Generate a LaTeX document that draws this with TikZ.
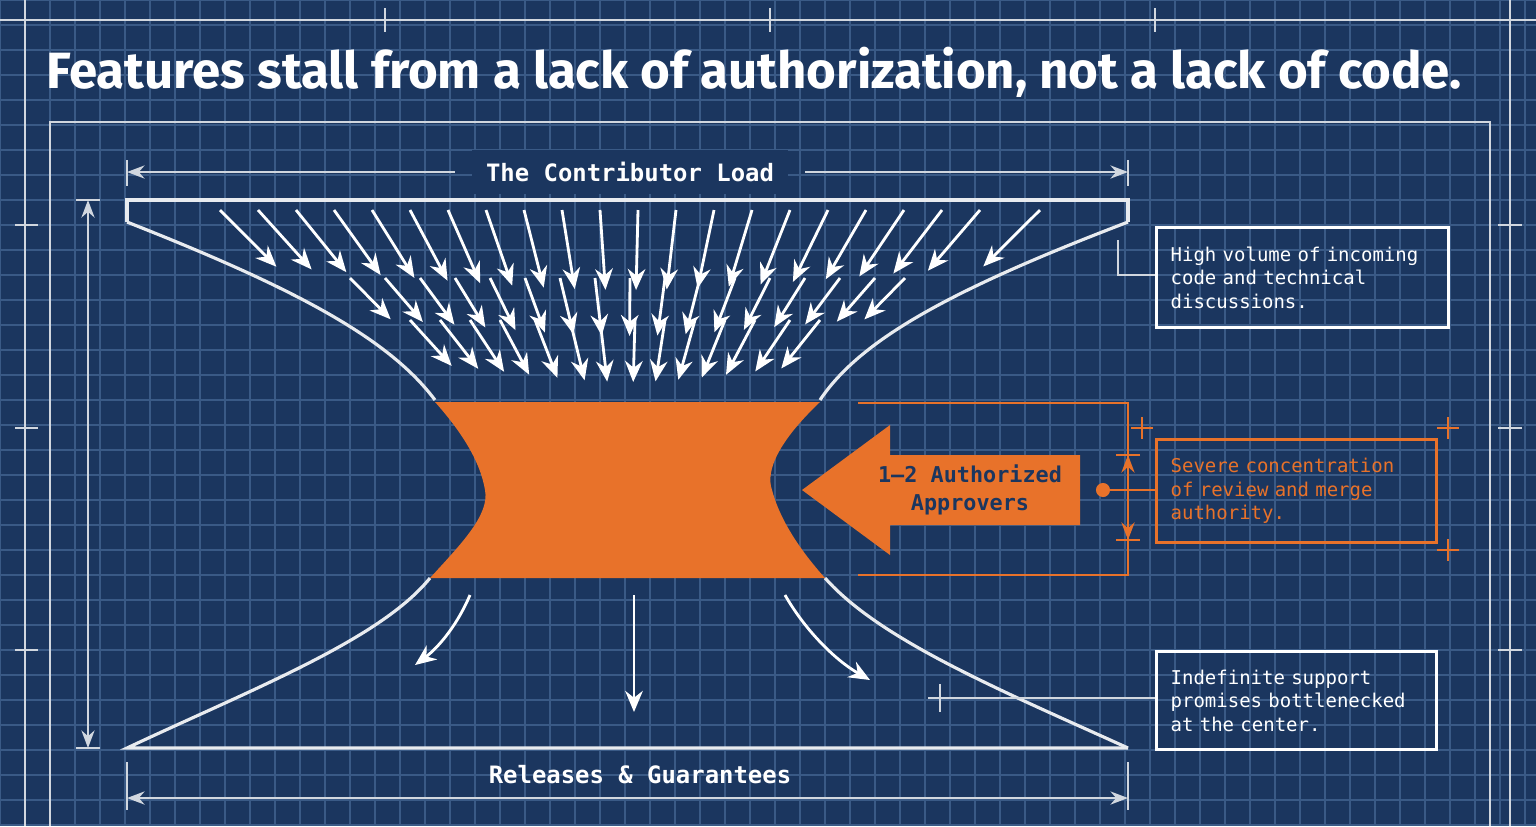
\documentclass[tikz,border=0pt]{standalone}
\usepackage{fontspec}
\setmainfont{Fira Sans}
\setmonofont{DejaVu Sans Mono}
\usetikzlibrary{calc, arrows.meta}
\definecolor{bpblue}{HTML}{1B365F}
\definecolor{bpgrid}{HTML}{3A5A86}
\definecolor{bporange}{HTML}{E8722A}
\tikzset{
  line/.style={draw=white!90!bpblue, line width=0.9pt},
  thin line/.style={draw=white!80!bpblue, line width=0.6pt},
  flow/.style={draw=white, line width=0.8pt, -{Stealth[length=6pt,width=5pt]}},
  dim/.style={thin line, {Stealth[length=5pt]}-{Stealth[length=5pt]}},
  note/.style={draw=white, line width=0.9pt, font=\ttfamily\fontsize{5.4}{6.7}\selectfont, text=white, align=left, anchor=north west, inner xsep=4pt, inner ysep=5pt},
  label/.style={text=white, font=\ttfamily\bfseries\fontsize{6.8}{8}\selectfont},
  tick/.style={thin line},
}
\begin{document}
\begin{tikzpicture}[x=0.01cm, y=-0.01cm]
  \fill[bpblue] (0,0) rectangle (1536,826);
  \useasboundingbox (0,0) rectangle (1536,826);
  % grid
  \foreach \x in {0,25,...,1536} \draw[bpgrid, line width=0.3pt] (\x,0) -- (\x,826);
  \foreach \y in {0,25,...,826} \draw[bpgrid, line width=0.3pt] (0,\y) -- (1536,\y);
  % frame
  \draw[thin line] (0,20) -- (1536,20);
  \draw[thin line] (25,0) -- (25,826);
  \draw[thin line] (1510,0) -- (1510,826);
  \draw[thin line] (50,826) -- (50,122) -- (1490,122) -- (1490,826);
  \foreach \x in {385,770,1155} \draw[tick] (\x,8) -- (\x,32);
  \foreach \y in {225,428,650} {
    \draw[tick] (15,\y) -- (38,\y);
    \draw[tick] (1498,\y) -- (1522,\y);
  }
  % title
  \node[text=white, font=\fontsize{14.5}{17}\selectfont\bfseries] (title) at (754,72)
    {Features stall from a lack of authorization, not a lack of code.};
  % dimensions
  \node[label, fill=bpblue, inner xsep=4pt] (load) at (630,172) {The Contributor Load};
  \draw[thin line, {Stealth[length=5pt]}-] (127,172) -- (455,172);
  \draw[thin line, -{Stealth[length=5pt]}] (805,172) -- (1128,172);
  \draw[tick] (127,160) -- (127,186);
  \draw[tick] (1128,160) -- (1128,186);
  \node[label] (rel) at (640,775) {Releases \& Guarantees};
  \draw[dim] (127,798) -- (1128,798);
  \draw[tick] (127,762) -- (127,810);
  \draw[tick] (1128,762) -- (1128,810);
  \draw[dim] (88,200) -- (88,748);
  \draw[tick] (76,200) -- (100,200);
  \draw[tick] (76,748) -- (100,748);
  % funnel
  \draw[line] (127,222) -- (127,200) -- (1128,200) -- (1128,222);
  \draw[line] (127,222) .. controls (300,290) and (390,340) .. (435,400);
  \draw[line] (1128,222) .. controls (950,290) and (860,340) .. (820,400);
  \draw[line] (430,578) .. controls (380,640) and (250,690) .. (127,748) -- (1128,748);
  \draw[line] (825,578) .. controls (880,640) and (1000,690) .. (1128,748);
  \fill[bporange] (435,402) -- (820,402) .. controls (780,440) and (765,470) .. (772,490)
    .. controls (780,520) and (800,550) .. (825,578) -- (430,578)
    .. controls (460,545) and (490,515) .. (485,490)
    .. controls (480,460) and (460,430) .. (435,402) -- cycle;
  % incoming load
  \foreach \x in {220,258,296,334,372,410,448,486,524,562,600,638,676,714,752,790,828,866,904,942,980,1040}
    \draw[flow] (\x,210) -- ($(\x,210)!0.8cm!(628,620)$);
  \foreach \x in {350,385,420,455,490,525,560,595,630,665,700,735,770,805,840,875,905}
    \draw[flow] (\x,278) -- ($(\x,278)!0.58cm!(628,560)$);
  \foreach \x in {410,440,470,500,535,570,600,635,665,695,725,755,790,820}
    \draw[flow] (\x,320) -- ($(\x,320)!0.62cm!(628,560)$);
  % outgoing
  \draw[flow] (470,595) .. controls (455,630) and (435,650) .. (415,665);
  \draw[flow] (634,595) -- (634,712);
  \draw[flow] (785,595) .. controls (805,630) and (835,660) .. (870,680);
  % notes
  \node[note, text width=2.64cm, minimum height=1.0cm] (high) at (1155,226)
    {High volume of incoming code and technical discussions.};
  \draw[thin line] (1118,240) -- (1118,275) -- (high.west |- 0,275);
  \node[note, draw=bporange, text=bporange, text width=2.52cm, minimum height=1.03cm] (severe) at (1155,438)
    {Severe concentration of review and merge authority.};
  \node[note, text width=2.52cm, minimum height=0.98cm] (indef) at (1155,650)
    {Indefinite support promises bottlenecked at the center.};
  \coordinate (mark) at (940,698);
  \draw[thin line] (mark) -- (indef.west |- mark);
  \draw[thin line] (940,684) -- (940,712) (928,698) -- (952,698);
  % authority
  \fill[bporange] (802,490) -- (890,425) -- (890,455) -- (1080,455) -- (1080,525)
    -- (890,525) -- (890,555) -- cycle;
  \node[font=\ttfamily\bfseries\fontsize{6.2}{8}\selectfont, text=bpblue, align=center] (appr) at (970,490)
    {1–2 Authorized\\Approvers};
  \draw[bporange, line width=0.7pt] (858,403) -- (1128,403) -- (1128,575) -- (858,575);
  \draw[bporange, line width=0.7pt, -{Stealth[length=5pt]}] (1128,490) -- (1128,455);
  \draw[bporange, line width=0.7pt, -{Stealth[length=5pt]}] (1128,490) -- (1128,540);
  \draw[bporange, line width=0.7pt] (1116,455) -- (1140,455) (1116,540) -- (1140,540);
  \fill[bporange] (1103,490) circle (2pt);
  \draw[bporange, line width=0.7pt] (1103,490) -- (severe.west |- 0,490);
  \foreach \p in {(1142,428),(1448,428),(1448,550)}
    \draw[bporange, line width=0.7pt] \p ++(-11,0) -- ++(22,0) \p ++(0,-11) -- ++(0,22);
\end{tikzpicture}
\end{document}
